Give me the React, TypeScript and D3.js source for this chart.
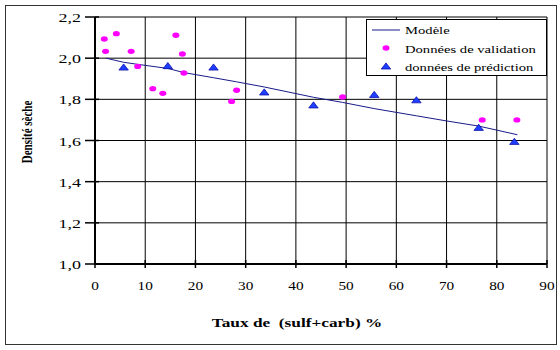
import React from "react";
import * as d3 from "d3";

// valeurs
const validationX = [1.85, 2.1, 4.25, 7.2, 8.5, 11.5, 13.5, 16.1, 17.4, 17.7, 27.2, 28.2, 49.3, 77.1, 84.0];
const validationY = [2.093, 2.033, 2.119, 2.033, 1.96, 1.852, 1.829, 2.111, 2.02, 1.928, 1.79, 1.844, 1.811, 1.70, 1.70];

const predictionX = [5.7, 14.5, 23.6, 33.7, 43.5, 55.6, 64.0, 76.4, 83.5];
const predictionY = [1.952, 1.959, 1.952, 1.831, 1.768, 1.819, 1.793, 1.659, 1.591];

const modelX = [2.2, 5.7, 8.5, 14.5, 17.7, 23.6, 28.2, 33.7, 43.5, 49.3, 55.6, 64, 70, 76.4, 84.1];
const modelY = [2.0, 1.98, 1.97, 1.95, 1.93, 1.905, 1.885, 1.86, 1.81, 1.785, 1.755, 1.72, 1.695, 1.67, 1.628];

const xTicks = [0, 10, 20, 30, 40, 50, 60, 70, 80, 90];
const yTicks = [1.0, 1.2, 1.4, 1.6, 1.8, 2.0, 2.2];

const legendLabels = ["Modèle", "Données de validation", "données de prédiction"];

const SX = 1.33; // texte étiré horizontalement comme sur l'original
const font = "'Liberation Serif', 'Times New Roman', serif";

const App = () => {
  const width = 560;
  const height = 350;
  const left = 95, right = 547, top = 17, bottom = 264;

  const x = d3.scaleLinear().domain([0, 90]).range([left, right]);
  const y = d3.scaleLinear().domain([1.0, 2.2]).range([bottom, top]);

  const line = d3.line<number>()
    .x((d, i) => x(modelX[i]))
    .y((d) => y(d));

  const tri = d3.symbol(d3.symbolTriangle, 22)() as string;

  const fmt = (v: number) => v.toFixed(1).replace(".", ",");

  return (
    <svg width={width} height={height} style={{ position: "absolute", left: 0, top: 0 }}>
      <rect x={0} y={0} width={width} height={height} fill="#fff" />
      <rect x={5.5} y={5.5} width={551} height={339} fill="none" stroke="#333" strokeWidth={1} />

      {/* grille */}
      {xTicks.map((t) => (
        <line key={"gx" + t} x1={x(t)} x2={x(t)} y1={top} y2={bottom} stroke="#000" strokeWidth={1} />
      ))}
      {yTicks.map((t) => (
        <line key={"gy" + t} x1={left} x2={right} y1={y(t)} y2={y(t)} stroke="#000" strokeWidth={1} />
      ))}

      {/* axes */}
      <line x1={left} x2={left} y1={top} y2={bottom} stroke="#000" strokeWidth={2} />
      <line x1={left} x2={right} y1={bottom} y2={bottom} stroke="#000" strokeWidth={2} />
      {yTicks.map((t) => (
        <line key={"ty" + t} x1={left - 10} x2={left + 4} y1={y(t)} y2={y(t)} stroke="#000" strokeWidth={1.5} />
      ))}
      {xTicks.map((t) => (
        <line key={"tx" + t} x1={x(t)} x2={x(t)} y1={bottom - 4} y2={bottom + 4} stroke="#000" strokeWidth={1.5} />
      ))}

      {/* étiquettes */}
      {yTicks.map((t) => (
        <text key={"ly" + t} transform={`translate(81,${y(t) + 5}) scale(${SX},1)`} textAnchor="end"
          fontFamily={font} fontSize={13.5} fill="#000">{fmt(t)}</text>
      ))}
      {xTicks.map((t) => (
        <text key={"lx" + t} transform={`translate(${x(t)},290) scale(${SX},1)`} textAnchor="middle"
          fontFamily={font} fontSize={11.5} fill="#000">{t}</text>
      ))}

      <text transform={`translate(297,327) scale(${SX},1)`} textAnchor="middle" fontFamily={font}
        fontSize={13} fontWeight="bold" fill="#000" style={{ whiteSpace: "pre" }}>Taux de  (sulf+carb) %</text>
      <text transform={`translate(32,132) rotate(-90) scale(1,${SX})`} textAnchor="middle" fontFamily={font}
        fontSize={11} fontWeight="bold" fill="#000">Densité sèche</text>

      {/* modèle */}
      <path d={line(modelY) as string} fill="none" stroke="#1a1a8c" strokeWidth={1} />

      {/* validation */}
      {validationX.map((v, i) => (
        <ellipse key={"v" + i} cx={x(v)} cy={y(validationY[i])} rx={3.5} ry={2.7} fill="#ff00ff" />
      ))}

      {/* prédiction */}
      {predictionX.map((v, i) => (
        <path key={"p" + i} d={tri} transform={`translate(${x(v)},${y(predictionY[i])}) scale(${SX},1)`}
          fill="#1f3fff" stroke="#0000a0" strokeWidth={0.6} />
      ))}

      {/* légende */}
      <g>
        <rect x={366.5} y={19.5} width={180} height={56} fill="#fff" stroke="#000" strokeWidth={1} />
        <line x1={372} x2={400} y1={30} y2={30} stroke="#1a1a8c" strokeWidth={1} />
        <ellipse cx={386} cy={48} rx={3.5} ry={2.7} fill="#ff00ff" />
        <path d={tri} transform={`translate(386,67) scale(${SX},1)`} fill="#1f3fff" stroke="#0000a0" strokeWidth={0.6} />
        {legendLabels.map((l, i) => (
          <text key={l} transform={`translate(405,${34 + i * 18.5}) scale(${SX},1)`} fontFamily={font}
            fontSize={11} fill="#000">{l}</text>
        ))}
      </g>
    </svg>
  );
};

export default App;
